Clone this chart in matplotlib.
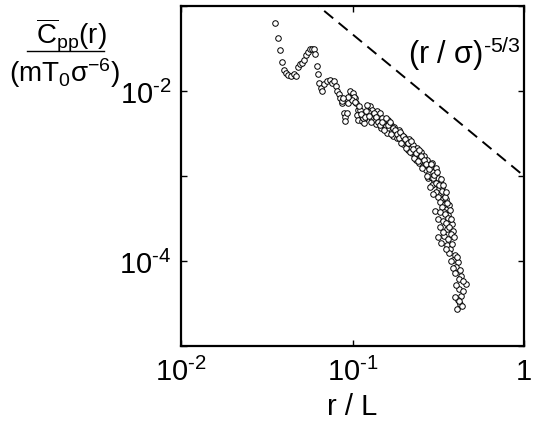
import numpy as np
import matplotlib
matplotlib.use("Agg")
import matplotlib.pyplot as plt
from matplotlib.ticker import FixedLocator, FixedFormatter, NullLocator

plt.rcParams['font.family'] = ['Liberation Sans', 'DejaVu Sans']
plt.rcParams['mathtext.fontset'] = 'custom'
plt.rcParams['mathtext.rm'] = 'Liberation Sans'
plt.rcParams['mathtext.it'] = 'Liberation Sans'
plt.rcParams['mathtext.bf'] = 'Liberation Sans:bold'

# r / L  and  C_pp(r)
r_small = [0.0353, 0.0366, 0.0376, 0.0388, 0.0400, 0.0411, 0.0423, 0.0438, 0.0454, 0.0470,
           0.0479, 0.0492, 0.0506, 0.0524, 0.0533, 0.0548, 0.0562, 0.0578, 0.0594, 0.0604,
           0.0621, 0.0627, 0.0638, 0.0655, 0.0667, 0.0685, 0.0710, 0.0736, 0.0757, 0.0777,
           0.0798, 0.0812, 0.0834, 0.0849, 0.0865, 0.0889, 0.0904, 0.0929, 0.0904, 0.0946,
           0.0980, 0.1007, 0.1035, 0.1052, 0.1081, 0.1122, 0.1162]
c_small = [0.0638, 0.0416, 0.0305, 0.0219, 0.0176, 0.0163, 0.0156, 0.0152, 0.0159, 0.0148,
           0.0192, 0.0205, 0.0214, 0.0234, 0.0264, 0.0287, 0.0308, 0.0314, 0.0308, 0.0272,
           0.0199, 0.0159, 0.0125, 0.0108, 0.0101, 0.0120, 0.0130, 0.0136, 0.0124, 0.0132,
           0.0114, 0.0101, 0.0092, 0.0082, 0.0072, 0.0055, 0.0049, 0.0055, 0.0044, 0.0072,
           0.0092, 0.0088, 0.0082, 0.0072, 0.0060, 0.0050, 0.0047]

r_band = [0.0967, 0.1007, 0.1020, 0.0993, 0.1034, 0.0941, 0.0869, 0.0881, 0.1062, 0.1077,
          0.1136, 0.1167, 0.1151, 0.1265, 0.1299, 0.1232, 0.1317, 0.1299, 0.1353, 0.1199,
          0.1106, 0.1215, 0.1390, 0.1409, 0.1447, 0.1371, 0.1428, 0.1486, 0.1506, 0.1467,
          0.1547, 0.1568, 0.1611, 0.1632, 0.1589, 0.1677, 0.1700, 0.1746, 0.1723, 0.1793,
          0.1817, 0.1867, 0.1842, 0.1918, 0.1943, 0.1996, 0.1970, 0.2051, 0.2079, 0.2135,
          0.2164, 0.2107, 0.2193, 0.2253, 0.2223, 0.2283, 0.2314, 0.2377, 0.2345, 0.2409,
          0.2475, 0.2442, 0.2508, 0.2542, 0.2577, 0.2611, 0.2647, 0.2683, 0.2719, 0.2756,
          0.2793, 0.2831, 0.2756, 0.2869, 0.2908, 0.2947, 0.2987, 0.3027, 0.3068, 0.2908,
          0.3110, 0.3152, 0.3194, 0.3068, 0.3237, 0.3281, 0.3152, 0.3325, 0.3370, 0.3237,
          0.3416, 0.3462, 0.3325, 0.3509, 0.3556, 0.3416, 0.3653, 0.3604, 0.3027, 0.3237,
          0.3462, 0.3152, 0.3370, 0.3604, 0.3803, 0.3237, 0.3556, 0.3854, 0.3152, 0.3416,
          0.3604, 0.3281, 0.3556, 0.3702, 0.3653, 0.3959, 0.3854, 0.4122, 0.4012, 0.4234,
          0.4291, 0.4590, 0.4177, 0.4291, 0.4122, 0.4234, 0.4067, 0.3959, 0.3752, 0.2947,
          0.2831,
          0.1091, 0.1121, 0.1183, 0.1248, 0.1282, 0.1335, 0.1371, 0.1409, 0.1447, 0.1486,
          0.1527, 0.1568, 0.1611, 0.1655, 0.1677, 0.1723, 0.1769, 0.1817, 0.1867, 0.1892,
          0.1918, 0.1970, 0.2024, 0.2051, 0.2107, 0.2164, 0.2193, 0.2253, 0.2283, 0.2345,
          0.2409, 0.2442, 0.2508, 0.2542, 0.2611, 0.2683, 0.2719, 0.2793, 0.2869, 0.2947,
          0.2987, 0.3068, 0.3110, 0.3194, 0.3281, 0.3325, 0.3370, 0.3462, 0.3509, 0.3556,
          0.3702, 0.3752, 0.3509, 0.3653, 0.3906, 0.3370, 0.3803, 0.3509, 0.4067, 0.3752,
          0.4177, 0.4408, 0.4012, 0.3854, 0.3959, 0.4408, 0.4177, 0.4349]
c_band = [0.0100, 0.00947, 0.00849, 0.00783, 0.00741, 0.00849, 0.00762, 0.00827, 0.00520, 0.00453,
          0.00441, 0.00418, 0.00479, 0.00665, 0.00596, 0.00564, 0.00520, 0.00466, 0.00453, 0.00580,
          0.00596, 0.00683, 0.00580, 0.00506, 0.00549, 0.00406, 0.00441, 0.00479, 0.00396, 0.00365,
          0.00429, 0.00385, 0.00453, 0.00355, 0.00318, 0.00396, 0.00336, 0.00375, 0.00293, 0.00327,
          0.00278, 0.00345, 0.00301, 0.00309, 0.00263, 0.00285, 0.00236, 0.00256, 0.00223, 0.00270,
          0.00236, 0.00200, 0.00211, 0.00229, 0.00185, 0.00200, 0.00170, 0.00211, 0.00153, 0.00180,
          0.00161, 0.00141, 0.00190, 0.00149, 0.00130, 0.00170, 0.00141, 0.00116, 0.00153, 0.00130,
          0.00107, 0.00123, 0.000934, 0.000985, 0.00141, 0.00110, 0.000884, 0.00101, 0.00123, 0.000793,
          0.000815, 0.000959, 0.000711, 0.000655, 0.000837, 0.000621, 0.000572, 0.000751, 0.000542, 0.000499,
          0.000621, 0.000473, 0.000436, 0.000542, 0.000412, 0.000380, 0.000460, 0.000350, 0.000391, 0.000380,
          0.000360, 0.000314, 0.000297, 0.000323, 0.000274, 0.000253, 0.000239, 0.000227, 0.000192, 0.000198,
          0.000182, 0.000163, 0.000155, 0.000139, 0.000124, 0.000118, 0.000103, 9.75e-5, 8.50e-5, 7.83e-5,
          6.65e-5, 5.35e-5, 4.67e-5, 3.85e-5, 3.46e-5, 3.10e-5, 2.71e-5, 3.75e-5, 0.000209, 0.000621,
          0.000751,
          0.00665, 0.00534, 0.00492, 0.00506, 0.00429, 0.00549, 0.00492, 0.00429, 0.00396, 0.00429,
          0.00345, 0.00479, 0.00396, 0.00429, 0.00309, 0.00365, 0.00345, 0.00309, 0.00278, 0.00327,
          0.00242, 0.00293, 0.00270, 0.00211, 0.00242, 0.00190, 0.00256, 0.00206, 0.00161, 0.00185,
          0.00149, 0.00200, 0.00170, 0.00123, 0.00153, 0.00137, 0.00101, 0.00120, 0.00137, 0.000934,
          0.00104, 0.000837, 0.00110, 0.000793, 0.000909, 0.000673, 0.000793, 0.000572, 0.000655, 0.000486,
          0.000401, 0.000314, 0.000282, 0.000253, 0.000192, 0.000220, 0.000159, 0.000139, 0.000112, 0.000100,
          6.13e-5, 4.42e-5, 5.20e-5, 8.27e-5, 7.21e-5, 5.80e-5, 3.36e-5, 2.94e-5]

r_all = np.array(r_small + r_band)
c_all = np.array(c_small + c_band)

# reference power law (r / sigma)^(-5/3)
ref_r = [0.01, 1.0]
ref_amp = 1.0e-3
ref_exp = -5.0 / 3.0

x_ticks = [1e-2, 1e-1, 1]
x_labels = [r'$10^{\text{-}2}$', r'$10^{\text{-}1}$', '1']
y_ticks = [1e-5, 1e-4, 1e-3, 1e-2, 1e-1]
y_labels = ['', r'$10^{\text{-}4}$', '', r'$10^{\text{-}2}$', '']

fig = plt.figure(figsize=(5.34, 4.27), dpi=100)
ax = fig.add_axes([0.339, 0.1874, 0.6423, 0.7963])

ax.plot(r_all, c_all, linestyle='none', marker='o', ms=4.0, mfc='white',
        mec='black', mew=0.7)
ref_c = [ref_amp * v ** ref_exp for v in ref_r]
ax.plot(ref_r, ref_c, color='black', lw=1.4, linestyle=(0, (6, 3.6)))

ax.set_xscale('log')
ax.set_yscale('log')
ax.set_xlim(1e-2, 1)
ax.set_ylim(1e-5, 1e-1)

ax.xaxis.set_major_locator(FixedLocator(x_ticks))
ax.xaxis.set_major_formatter(FixedFormatter(x_labels))
ax.yaxis.set_major_locator(FixedLocator(y_ticks))
ax.yaxis.set_major_formatter(FixedFormatter(y_labels))
ax.xaxis.set_minor_locator(NullLocator())
ax.yaxis.set_minor_locator(NullLocator())

ax.tick_params(which='major', direction='in', length=4, width=1.0,
               top=True, right=True, labelsize=21)
ax.tick_params(axis='x', pad=8)
ax.tick_params(axis='y', pad=7)
for s in ax.spines.values():
    s.set_linewidth(1.6)

ax.set_xlabel('r / L', fontsize=21, labelpad=4)

# y label as a stacked fraction in the upper left
fig.text(0.133, 0.915, r'$\overline{C}_{pp}(r)$', fontsize=20, ha='center', va='center')
fig.add_artist(plt.Line2D([0.05, 0.195], [0.878, 0.878], color='black', lw=1.0,
                          transform=fig.transFigure))
fig.text(0.12, 0.828, r'(mT$_0$σ$^{-6}$)', fontsize=20, ha='center', va='center')

ax.text(0.662, 0.862, r'(r / σ)$^{\text{-}5/3}$', transform=ax.transAxes, fontsize=22,
        ha='left', va='center')

fig.savefig('out.png', dpi=100)
